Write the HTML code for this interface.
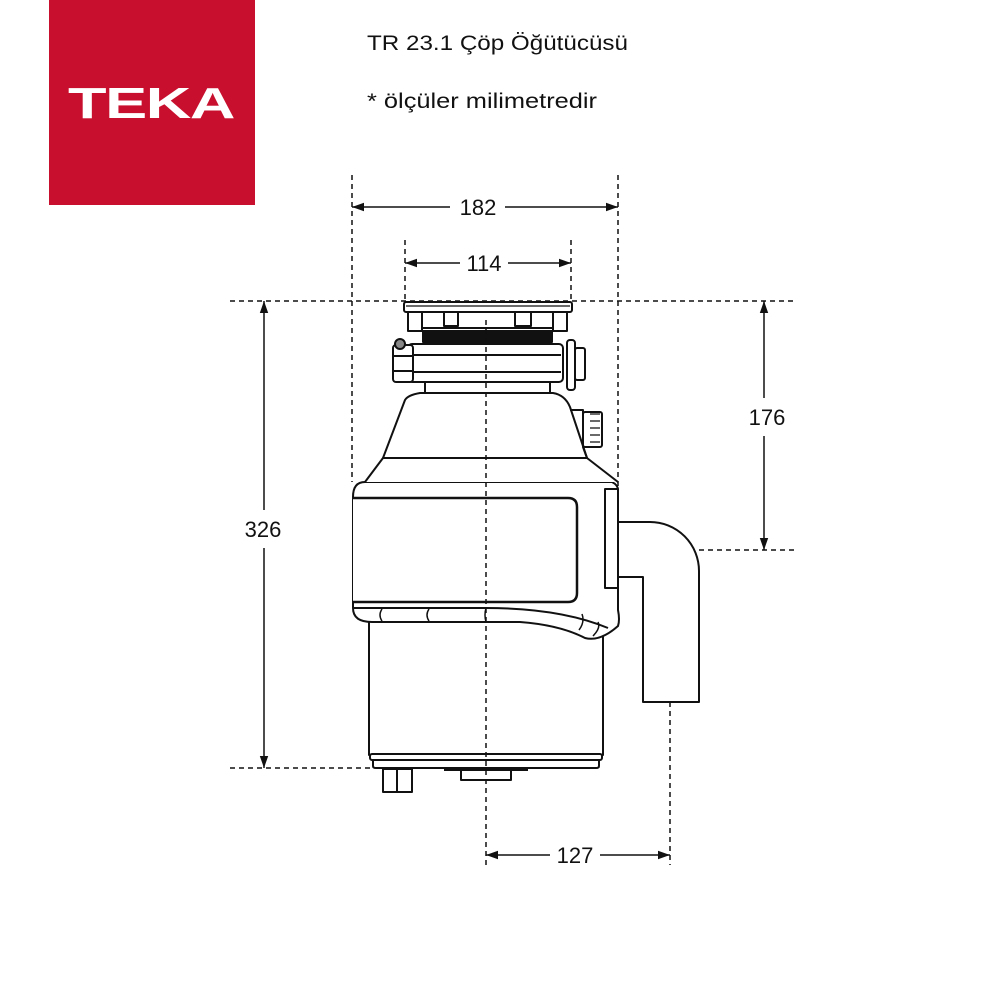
<!DOCTYPE html>
<html><head><meta charset="utf-8"><style>
html,body{margin:0;padding:0;background:#fff;width:1000px;height:1000px;overflow:hidden}
svg{display:block}
text{font-family:"Liberation Sans",sans-serif;fill:#111}
</style></head><body>
<svg width="1000" height="1000" viewBox="0 0 1000 1000" xmlns="http://www.w3.org/2000/svg">
<defs>
<marker id="a" viewBox="0 0 10 10" refX="10" refY="5" markerWidth="8" markerHeight="8" orient="auto-start-reverse"><path d="M0,1.5 L10,5 L0,8.5 Z" fill="#111"/></marker>
</defs>
<rect x="49" y="0" width="206" height="205" fill="#c8102e"/>
<text x="68" y="118" font-size="44" font-weight="bold" style="fill:#fff;letter-spacing:-1px" textLength="166" lengthAdjust="spacingAndGlyphs">TEKA</text>
<text x="367" y="50" font-size="21" textLength="261" lengthAdjust="spacingAndGlyphs">TR 23.1 Çöp Öğütücüsü</text>
<text x="367" y="108" font-size="21" textLength="230" lengthAdjust="spacingAndGlyphs">* ölçüler milimetredir</text>

<g stroke="#111" stroke-width="1.5" stroke-dasharray="5,4" fill="none">
<line x1="352" y1="175" x2="352" y2="482"/>
<line x1="618" y1="175" x2="618" y2="610"/>
<line x1="405" y1="240" x2="405" y2="302"/>
<line x1="571" y1="240" x2="571" y2="302"/>
<line x1="230" y1="301" x2="795" y2="301"/>
<line x1="618" y1="550" x2="795" y2="550"/>
<line x1="230" y1="768" x2="372" y2="768"/>
<line x1="670" y1="702" x2="670" y2="865"/>
</g>

<g stroke="#111" stroke-width="1.5" fill="none">
<line x1="352" y1="207" x2="450" y2="207" marker-start="url(#a)"/>
<line x1="505" y1="207" x2="618" y2="207" marker-end="url(#a)"/>
<line x1="405" y1="263" x2="460" y2="263" marker-start="url(#a)"/>
<line x1="508" y1="263" x2="571" y2="263" marker-end="url(#a)"/>
<line x1="264" y1="301" x2="264" y2="510" marker-start="url(#a)"/>
<line x1="264" y1="548" x2="264" y2="768" marker-end="url(#a)"/>
<line x1="764" y1="301" x2="764" y2="398" marker-start="url(#a)"/>
<line x1="764" y1="436" x2="764" y2="550" marker-end="url(#a)"/>
<line x1="486" y1="855" x2="550" y2="855" marker-start="url(#a)"/>
<line x1="600" y1="855" x2="670" y2="855" marker-end="url(#a)"/>
</g>
<g font-size="22" text-anchor="middle">
<text x="478" y="215">182</text>
<text x="484" y="271">114</text>
<text x="263" y="537">326</text>
<text x="767" y="425">176</text>
<text x="575" y="863">127</text>
</g>

<g stroke="#111" stroke-width="2" fill="#fff" stroke-linejoin="round">
<path d="M618,522 L650,522 A49,49 0 0 1 699,571 L699,702 L643,702 L643,577 L618,577 Z"/>
<rect x="369" y="615" width="234" height="140"/>
<rect x="370" y="754" width="232" height="6" rx="2"/>
<path d="M373,760 L599,760 L599,766 Q599,768 596,768 L376,768 Q373,768 373,766 Z"/>
<rect x="383" y="769" width="14" height="23" fill="#fff"/>
<rect x="397" y="769" width="15" height="23" fill="#fff"/>
<line x1="444" y1="770" x2="528" y2="770"/>
<rect x="461" y="770" width="50" height="10"/>
<path d="M353,497 Q353,482 365,482 L612,482 Q618,485 618,490 L618,610 Q620,620 618,626 Q600,642 585,638 Q560,625 520,622 L372,622 Q353,622 353,608 Z"/>
<path d="M353,498 L568,498 Q577,498 577,507 L577,593 Q577,602 568,602 L353,602" stroke-width="2.5"/>
<path d="M353,608 L486,608 Q560,608 608,628" fill="none"/>
<path d="M382,609 Q378,615 382,621 M429,609 Q425,615 429,621 M486,608 Q484,615 486,622 M582,614 Q585,622 579,630 M598,622 Q601,628 593,636" fill="none" stroke-width="1.5"/>
<rect x="605" y="489" width="13" height="99"/>
<path d="M365,482 L383,458 L587,458 L618,482"/>
<path d="M383,458 L405,400 Q408,395 420,393 L553,393 Q565,395 570,407 L587,458 Z"/>
<path d="M570,410 L583,410 L583,447 L587,458" fill="none"/>
<rect x="583" y="412" width="19" height="35" rx="2"/>
<path d="M590,414 L600,414 M590,421 L600,421 M590,428 L600,428 M590,435 L600,435 M590,442 L600,442" stroke-width="1.2"/>
<rect x="425" y="381" width="125" height="12"/>
<rect x="408" y="344" width="155" height="38" rx="4"/>
<line x1="410" y1="355" x2="561" y2="355"/>
<line x1="410" y1="372" x2="561" y2="372"/>
<rect x="393" y="345" width="20" height="37" rx="3"/>
<line x1="393" y1="356" x2="413" y2="356"/>
<line x1="393" y1="371" x2="413" y2="371"/>
<circle cx="400" cy="344" r="5" fill="#888"/>
<rect x="567" y="340" width="8" height="50" rx="3"/>
<rect x="575" y="348" width="10" height="32" rx="2"/>
<rect x="423" y="331" width="129" height="11" fill="#111"/>
<rect x="420" y="312" width="135" height="16"/>
<rect x="408" y="312" width="14" height="19"/>
<rect x="444" y="312" width="14" height="14"/>
<rect x="515" y="312" width="16" height="14"/>
<rect x="553" y="312" width="14" height="19"/>
<rect x="404" y="302" width="168" height="10" rx="2"/>
<line x1="406" y1="306" x2="570" y2="306" stroke-width="1.2"/>
</g>
<line x1="486" y1="320" x2="486" y2="865" stroke="#111" stroke-width="1.5" stroke-dasharray="5,4"/>
</svg>
</body></html>
